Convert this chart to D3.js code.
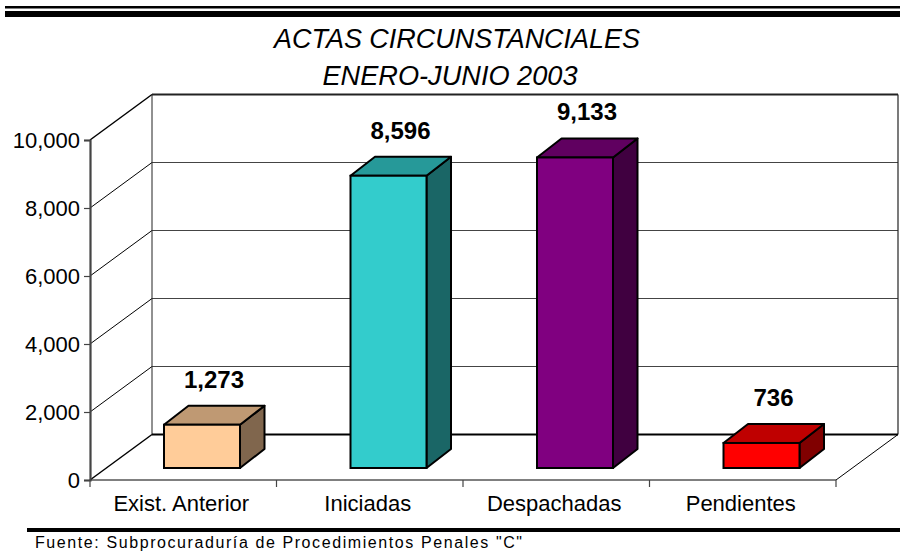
<!DOCTYPE html>
<html><head><meta charset="utf-8">
<script src="https://cdn.jsdelivr.net/npm/d3@7/dist/d3.min.js"></script>
<style>body{margin:0;background:#fff}svg{display:block}text{font-family:"Liberation Sans",Arial,sans-serif}</style>
</head><body>
<svg id="c" width="900" height="554"></svg>
<script>
const categories = ["Exist. Anterior", "Iniciadas", "Despachadas", "Pendientes"];
const values = [1273, 8596, 9133, 736];
const frontColors = ["#FFCC99", "#33CCCC", "#800080", "#FF0000"];
const yTicks = [0, 2000, 4000, 6000, 8000, 10000];
const titleLines = ["ACTAS CIRCUNSTANCIALES", "ENERO-JUNIO 2003"];
const sourceText = "Fuente: Subprocuraduría de Procedimientos Penales \"C\"";

const svg = d3.select("#c");
const fmt = d3.format(",");

// plot geometry
const x0 = 90, x1 = 836, yBase = 480, yTop = 140;
const depth = {dx: 62, dy: -45.5};
const barOff = {dx: 0, dy: -12};
const barDepth = {dx: 24.5, dy: -19};

const x = d3.scaleBand().domain(categories).range([x0, x1]);
const y = d3.scaleLinear().domain([0, 10000]).range([yBase, yTop]);

// top rules
svg.append("rect").attr("x", 5).attr("y", 6).attr("width", 895).attr("height", 2.5).attr("fill", "#000");
svg.append("rect").attr("x", 5).attr("y", 11).attr("width", 895).attr("height", 6).attr("fill", "#000");

// title
titleLines.forEach((t, i) => {
  svg.append("text").attr("x", i === 0 ? 457 : 450).attr("y", i === 0 ? 48 : 85)
    .attr("text-anchor", "middle").attr("font-size", 27).attr("font-style", "italic")
    .attr("textLength", i === 0 ? 366 : 255).attr("lengthAdjust", "spacingAndGlyphs")
    .text(t);
});

const g = svg.append("g");
const bx0 = x0 + depth.dx, bx1 = x1 + depth.dx;

// gridlines: left wall diagonals + back wall horizontals
yTicks.forEach(v => {
  if (v === 0) return;
  const yy = y(v);
  const isTop = v === 10000;
  g.append("line").attr("x1", x0).attr("y1", yy).attr("x2", bx0).attr("y2", yy + depth.dy)
    .attr("stroke", "#000").attr("stroke-width", isTop ? 1.5 : 1);
  g.append("line").attr("x1", bx0).attr("y1", yy + depth.dy).attr("x2", bx1).attr("y2", yy + depth.dy)
    .attr("stroke", isTop ? "#222" : "#444").attr("stroke-width", isTop ? 2 : 1);
});
// back wall verticals
g.append("line").attr("x1", bx0).attr("y1", y(10000) + depth.dy).attr("x2", bx0).attr("y2", y(0) + depth.dy)
  .attr("stroke", "#222").attr("stroke-width", 1);
g.append("line").attr("x1", bx1).attr("y1", y(10000) + depth.dy).attr("x2", bx1).attr("y2", y(0) + depth.dy)
  .attr("stroke", "#222").attr("stroke-width", 1.2);
// floor
g.append("line").attr("x1", bx0).attr("y1", y(0) + depth.dy).attr("x2", bx1).attr("y2", y(0) + depth.dy)
  .attr("stroke", "#000").attr("stroke-width", 2.2);
g.append("line").attr("x1", x0).attr("y1", y(0)).attr("x2", bx0).attr("y2", y(0) + depth.dy)
  .attr("stroke", "#000").attr("stroke-width", 1.5);
g.append("line").attr("x1", x1).attr("y1", y(0)).attr("x2", bx1).attr("y2", y(0) + depth.dy)
  .attr("stroke", "#000").attr("stroke-width", 1);
g.append("line").attr("x1", x0).attr("y1", y(0)).attr("x2", x1).attr("y2", y(0))
  .attr("stroke", "#000").attr("stroke-width", 1);

// y axis
const yAxis = d3.axisLeft(y).tickValues(yTicks).tickFormat(fmt).tickSize(6).tickPadding(4);
const ya = svg.append("g").attr("transform", `translate(${x0},0)`).call(yAxis);
ya.select(".domain").attr("stroke", "#444").attr("stroke-width", 2.2);
ya.selectAll(".tick line").attr("stroke", "#444").attr("stroke-width", 1.2);
ya.selectAll(".tick text").attr("font-size", 22).attr("fill", "#000")
  .style("font-family", "Liberation Sans, Arial, sans-serif");

// x axis ticks
const xTickPos = categories.map(c => x(c)).concat([x1]);
svg.selectAll(".xt").data(xTickPos).join("line").attr("class", "xt")
  .attr("x1", d => d).attr("x2", d => d).attr("y1", yBase).attr("y2", yBase + 7)
  .attr("stroke", "#444").attr("stroke-width", 1.2);
svg.selectAll(".xl").data(categories).join("text").attr("class", "xl")
  .attr("x", d => x(d) + x.bandwidth() / 2 - 2).attr("y", 511)
  .attr("text-anchor", "middle").attr("font-size", 22).text(d => d);

// bars
const shade = (c, k) => { const r = d3.rgb(c); return d3.rgb(r.r * k, r.g * k, r.b * k).formatHex(); };
const barW = 76, barInset = 74;
const bars = svg.selectAll(".bar").data(categories.map((c, i) => ({c, v: values[i], col: frontColors[i]})))
  .join("g").attr("class", "bar");
bars.each(function(d) {
  const gg = d3.select(this);
  const L = x(d.c) + barInset + barOff.dx, R = L + barW;
  const B = y(0) + barOff.dy, T = y(d.v) + barOff.dy;
  const ddx = barDepth.dx, ddy = barDepth.dy;
  gg.append("polygon").attr("points", [[R, T], [R + ddx, T + ddy], [R + ddx, B + ddy], [R, B]].join(" "))
    .attr("fill", shade(d.col, 0.5)).attr("stroke", "#000").attr("stroke-width", 2).attr("stroke-linejoin", "round");
  gg.append("polygon").attr("points", [[L, T], [L + ddx, T + ddy], [R + ddx, T + ddy], [R, T]].join(" "))
    .attr("fill", shade(d.col, 0.75)).attr("stroke", "#000").attr("stroke-width", 2).attr("stroke-linejoin", "round");
  gg.append("rect").attr("x", L).attr("y", T).attr("width", barW).attr("height", B - T)
    .attr("fill", d.col).attr("stroke", "#000").attr("stroke-width", 2);
  gg.append("text").attr("x", L + barW / 2 + 12).attr("y", T + ddy - 18)
    .attr("text-anchor", "middle").attr("font-size", 24).attr("font-weight", "bold")
    .text(fmt(d.v));
});

// bottom rule + source
svg.append("rect").attr("x", 27).attr("y", 528).attr("width", 873).attr("height", 4).attr("fill", "#000");
svg.append("text").attr("x", 35).attr("y", 548).attr("font-size", 16)
  .attr("textLength", 487).attr("lengthAdjust", "spacing").text(sourceText);
</script>
</body></html>
